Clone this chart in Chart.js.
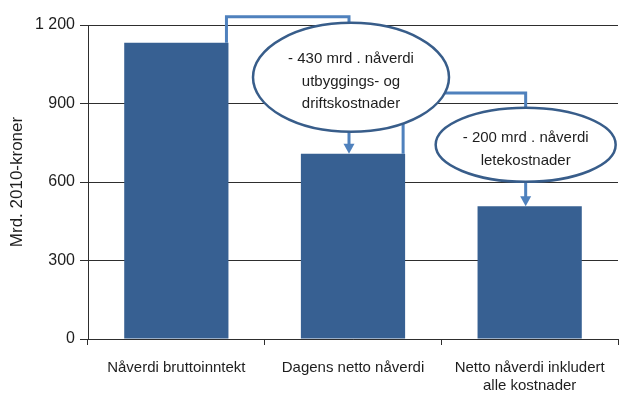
<!DOCTYPE html>
<html>
<head>
<meta charset="utf-8">
<script src="https://cdn.jsdelivr.net/npm/chart.js@4/dist/chart.umd.min.js"></script>
<style>
  html, body { margin: 0; padding: 0; background: #ffffff; }
  #wrap { width: 620px; height: 410px; }
</style>
</head>
<body>
<div id="wrap"><canvas id="c" width="620" height="410"></canvas></div>
<script>
const categories = ['Nåverdi bruttoinntekt', 'Dagens netto nåverdi', ['Netto nåverdi inkludert', 'alle kostnader']];
const values = [1132, 708, 507];
const yTickValues = [0, 300, 600, 900, 1200];
const yTitle = 'Mrd. 2010-kroner';
const bubble1Lines = ['- 430 mrd . nåverdi', 'utbyggings- og', 'driftskostnader'];
const bubble2Lines = ['- 200 mrd . nåverdi', 'letekostnader'];
// value-space anchors for the annotation connectors / bubbles
const link1Values = { top: 1232, center: 1000 };
const link2Values = { top: 940, center: 742 };

const FONT = '"Liberation Sans", Arial, Helvetica, sans-serif';
const TXT = '#1e1e1e';
const GRID = '#2e2e2e';
const BAR = '#376092';
const LINK = '#4F81BD';
const OUTLINE = '#385D8A';

function fmt(v) {
  return String(v).replace(/\B(?=(\d{3})+(?!\d))/g, ' ');
}

const annotate = {
  id: 'annotate',
  afterDatasetsDraw(chart) {
    const ctx = chart.ctx;
    const y = chart.scales.y;
    const bars = chart.getDatasetMeta(0).data;
    const links = [
      { from: 0, to: 1, v: link1Values, rx: 98, ry: 54.5, dx: 2, lines: bubble1Lines },
      { from: 1, to: 2, v: link2Values, rx: 90, ry: 37, dx: 0, lines: bubble2Lines }
    ];
    const geo = links.map(l => {
      const a = bars[l.from], b = bars[l.to];
      return {
        l,
        x0: a.x + a.width / 2 - 2,
        y0: a.y,
        x1: b.x - 4,
        y1: b.y,
        yTop: y.getPixelForValue(l.v.top),
        cy: y.getPixelForValue(l.v.center)
      };
    });
    ctx.save();
    // connectors
    geo.forEach(g => {
      ctx.strokeStyle = LINK;
      ctx.lineWidth = 3;
      ctx.lineJoin = 'miter';
      ctx.lineCap = 'butt';
      ctx.beginPath();
      ctx.moveTo(g.x0, g.y0);
      ctx.lineTo(g.x0, g.yTop);
      ctx.lineTo(g.x1, g.yTop);
      ctx.lineTo(g.x1, g.y1 - 8);
      ctx.stroke();
      ctx.fillStyle = LINK;
      ctx.beginPath();
      ctx.moveTo(g.x1 - 5.5, g.y1 - 10);
      ctx.lineTo(g.x1 + 5.5, g.y1 - 10);
      ctx.lineTo(g.x1, g.y1);
      ctx.closePath();
      ctx.fill();
    });
    // bubbles
    geo.forEach(g => {
      const cx = g.x1 + g.l.dx;
      ctx.beginPath();
      ctx.ellipse(cx, g.cy, g.l.rx, g.l.ry, 0, 0, Math.PI * 2);
      ctx.fillStyle = '#ffffff';
      ctx.fill();
      ctx.lineWidth = 2.5;
      ctx.strokeStyle = OUTLINE;
      ctx.stroke();
      ctx.fillStyle = TXT;
      ctx.font = '15px ' + FONT;
      ctx.textAlign = 'center';
      ctx.textBaseline = 'middle';
      const n = g.l.lines.length;
      g.l.lines.forEach((t, i) => {
        ctx.fillText(t, cx, g.cy + 4.5 + (i - (n - 1) / 2) * 22.5);
      });
    });
    ctx.restore();
  }
};

new Chart(document.getElementById('c'), {
  type: 'bar',
  data: {
    labels: categories,
    datasets: [{
      data: values,
      backgroundColor: BAR,
      borderWidth: 0,
      categoryPercentage: 1,
      barPercentage: 0.59
    }]
  },
  options: {
    responsive: false,
    animation: false,
    layout: { padding: { top: 25, right: 2, left: 0, bottom: 0 } },
    plugins: { legend: { display: false }, tooltip: { enabled: false } },
    scales: {
      x: {
        grid: { display: true, drawOnChartArea: false, drawTicks: true, tickLength: 6, offset: true, color: GRID, lineWidth: 1 },
        border: { display: true, color: GRID, width: 1 },
        ticks: { font: { family: FONT, size: 15 }, color: TXT, padding: 14, maxRotation: 0, autoSkip: false },
        afterFit(s) { s.height = 71; }
      },
      y: {
        min: 0, max: 1200,
        afterBuildTicks(s) { s.ticks = yTickValues.map(v => ({ value: v })); },
        ticks: { font: { family: FONT, size: 16 }, color: TXT, padding: 5, callback: v => fmt(v) },
        grid: { color: GRID, lineWidth: 1, tickLength: 8 },
        border: { display: true, color: GRID, width: 1 },
        title: { display: true, text: yTitle, font: { family: FONT, size: 17 }, color: TXT, padding: { top: 7, bottom: 0 } },
        afterFit(s) { s.width = 88; }
      }
    }
  },
  plugins: [annotate]
});
</script>
</body>
</html>
